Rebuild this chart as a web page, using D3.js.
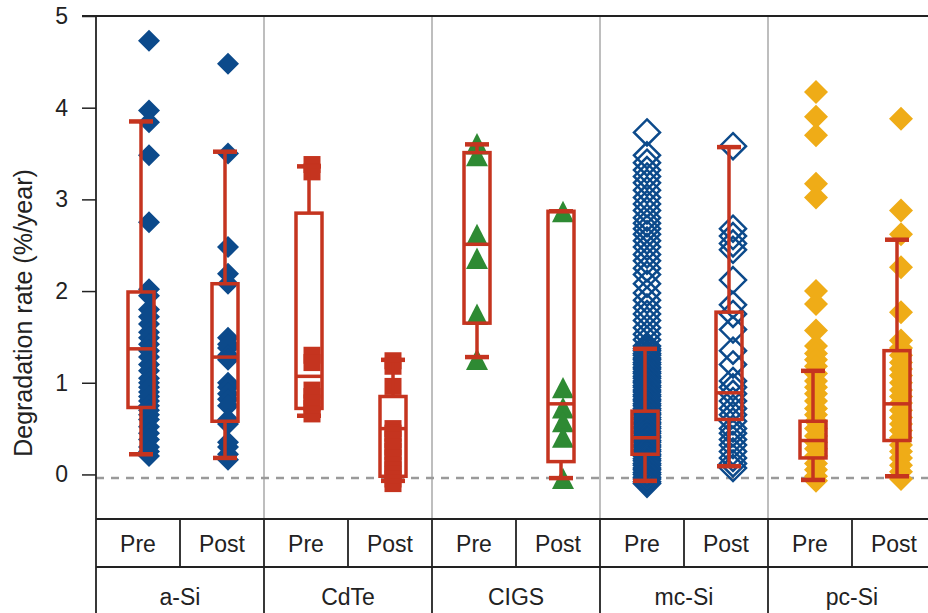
<!DOCTYPE html>
<html>
<head>
<meta charset="utf-8">
<script src="https://cdn.jsdelivr.net/npm/d3@7"></script>
<style>
  body { margin: 0; background: #fff; }
  text { font-family: "Liberation Sans", Arial, sans-serif; fill: #222; }
</style>
</head>
<body>
<svg id="chart" width="928" height="613"></svg>
<script>
// categories
const groups = ["a-Si", "CdTe", "CIGS", "mc-Si", "pc-Si"];
const periods = ["Pre", "Post"];
const yTicks = [0, 1, 2, 3, 4, 5];
const refLine = -0.04;

// degradation rates (%/year)
const aSiPre = [4.73, 3.97, 3.84, 3.48, 2.75, 2.02, 1.95, 1.8, 1.72, 1.64, 1.55, 1.49, 1.42, 1.35, 1.28, 1.2,
    1.13, 1.05, 1.0, 0.95, 0.9, 0.85, 0.8, 0.75, 0.7, 0.65, 0.6, 0.52, 0.45, 0.38, 0.3, 0.25, 0.2];
const aSiPost = [4.48, 3.5, 2.48, 2.19, 2.08, 1.49, 1.42, 1.38, 1.3, 1.25, 1.0, 0.95, 0.88, 0.82, 0.75, 0.6,
    0.55, 0.35, 0.3, 0.22, 0.16];
const cdtePre = [3.38, 3.3, 1.3, 1.22, 0.92, 0.85, 0.78, 0.72, 0.66];
const cdtePost = [1.24, 1.18, 0.96, 0.5, 0.45, 0.38, 0.3, 0.25, 0.18, 0.1, 0.05, 0.0, -0.05, -0.1];
const cigsPre = [3.58, 3.45, 2.59, 2.33, 1.72, 1.23];
const cigsPost = [2.84, 0.92, 0.7, 0.55, 0.38, -0.07];
const mcSiPre = [3.73, 3.48, 3.4, 3.32, 3.25, 3.18, 3.1, 3.02, 2.95, 2.88, 2.8, 2.74, 2.68, 2.62, 2.55, 2.48,
    2.4, 2.33, 2.25, 2.18, 2.08, 1.98, 1.9, 1.82, 1.75, 1.68, 1.6, 1.53, 1.47, 1.4, 1.37, 1.35, 1.32, 1.3,
    1.27, 1.25, 1.22, 1.2, 1.17, 1.15, 1.12, 1.1, 1.07, 1.05, 1.02, 1.0, 0.97, 0.95, 0.92, 0.9, 0.87, 0.85,
    0.82, 0.8, 0.77, 0.75, 0.72, 0.7, 0.67, 0.65, 0.62, 0.6, 0.57, 0.55, 0.52, 0.5, 0.47, 0.45, 0.42, 0.4,
    0.37, 0.35, 0.32, 0.3, 0.27, 0.25, 0.22, 0.2, 0.17, 0.15, 0.12, 0.1, 0.07, 0.05, 0.02, 0.0, -0.03,
    -0.05, -0.08, -0.1];
const mcSiPost = [3.58, 2.68, 2.6, 2.52, 2.45, 2.12, 1.85, 1.75, 1.58, 1.35, 1.2, 1.02, 0.95, 0.88, 0.8, 0.72,
    0.65, 0.58, 0.5, 0.45, 0.38, 0.32, 0.25, 0.18, 0.12, 0.07];
const pcSiPre = [4.17, 3.9, 3.7, 3.17, 3.02, 2.0, 1.86, 1.57, 1.4, 1.32, 1.25, 1.18, 1.1, 1.02, 0.95, 0.88,
    0.8, 0.72, 0.65, 0.58, 0.5, 0.42, 0.35, 0.28, 0.2, 0.12, 0.05, -0.02, -0.07];
const pcSiPost = [3.88, 2.88, 2.62, 2.26, 1.77, 1.46, 1.38, 1.3, 1.22, 1.15, 1.08, 1.0, 0.92, 0.85, 0.78, 0.7,
    0.62, 0.55, 0.48, 0.4, 0.32, 0.25, 0.18, 0.1, 0.03, -0.05];

// box plot stats, order: a-Si pre/post, CdTe pre/post, CIGS pre/post, mc-Si pre/post, pc-Si pre/post
const whiskerLow  = [0.22, 0.18, 0.64, -0.07, 1.28, -0.04, -0.07, 0.09, -0.06, -0.02];
const boxLow      = [0.73, 0.58, 0.72, -0.02, 1.65, 0.14, 0.22, 0.6, 0.18, 0.37];
const boxMedian   = [1.37, 1.28, 1.07, 0.5, 2.51, 0.77, 0.4, 0.89, 0.37, 0.77];
const boxHigh     = [1.99, 2.08, 2.85, 0.85, 3.51, 2.87, 0.69, 1.77, 0.58, 1.35];
const whiskerHigh = [3.85, 3.52, 3.36, 1.25, 3.6, 2.87, 1.37, 3.57, 1.13, 2.56];

const pointSets = [aSiPre, aSiPost, cdtePre, cdtePost, cigsPre, cigsPost, mcSiPre, mcSiPost, pcSiPre, pcSiPost];

const series = [];
groups.forEach((g, gi) => {
    periods.forEach((p, pi) => {
        const i = gi * 2 + pi;
        series.push({
            group: g, period: p, values: pointSets[i],
            wLo: whiskerLow[i], q1: boxLow[i], med: boxMedian[i], q3: boxHigh[i], wHi: whiskerHigh[i]
        });
    });
});

const red = "#c5341f";
const markers = {
    "a-Si":  { shape: "diamond", size: 11, fill: "#0c4a8b", stroke: "none", dx: [8, 3] },
    "CdTe":  { shape: "square", size: 8.5, fill: red, stroke: "none", dx: [3, 0] },
    "CIGS":  { shape: "triangle", size: 11, fill: "#2e8a33", stroke: "none", dx: [0, 2] },
    "mc-Si": { shape: "diamond", size: 13, fill: "none", stroke: "#0c4a8b", dx: [2, 4] },
    "pc-Si": { shape: "diamond", size: 12, fill: "#efac17", stroke: "none", dx: [3, 4] }
};

function markerPath(shape, s) {
    if (shape === "diamond") return `M0,${-s}L${s},0L0,${s}L${-s},0Z`;
    if (shape === "square") return `M${-s},${-s}H${s}V${s}H${-s}Z`;
    // triangle centred on its centroid
    return `M0,${-s * 1.2}L${s},${s * 0.75}L${-s},${s * 0.75}Z`;
}

const plotTop = 16, plotBottom = 519, rowMid = 567, tableBottom = 640;
const left = 96, groupW = 168;

const svg = d3.select("#chart");

const x = d3.scaleBand().domain(groups).range([left, left + groupW * groups.length]);
const xi = d3.scaleBand().domain(periods).range([0, groupW]);
const y = d3.scaleLinear().domain([-0.486, 5]).range([plotBottom, plotTop]);

const boxCx = d => x(d.group) + xi(d.period) + xi.bandwidth() / 2 + 3;

// group separators in the plot
svg.append("g")
    .selectAll("line")
    .data(groups.slice(1))
    .join("line")
    .attr("x1", d => x(d)).attr("x2", d => x(d))
    .attr("y1", plotTop).attr("y2", plotBottom)
    .attr("stroke", "#a8a8a8")
    .attr("stroke-width", 1.5);

// dashed reference line
svg.append("line")
    .attr("x1", left).attr("x2", 928)
    .attr("y1", y(refLine)).attr("y2", y(refLine))
    .attr("stroke", "#9a9a9a")
    .attr("stroke-width", 2.5)
    .attr("stroke-dasharray", "8,7");

// points
const pts = svg.append("g");
series.forEach(s => {
    const m = markers[s.group];
    const cx = boxCx(s) + m.dx[periods.indexOf(s.period)];
    pts.append("g")
        .selectAll("path")
        .data(s.values)
        .join("path")
        .attr("d", markerPath(m.shape, m.size))
        .attr("transform", v => `translate(${cx},${y(v)})`)
        .attr("fill", m.fill)
        .attr("stroke", m.stroke)
        .attr("stroke-width", 2.5);
});

// box plots
const boxW = 26;
const boxes = svg.append("g")
    .selectAll("g")
    .data(series)
    .join("g")
    .attr("transform", d => `translate(${boxCx(d)},0)`)
    .attr("stroke", red)
    .attr("fill", "none");

boxes.append("line")
    .attr("y1", d => y(d.q3)).attr("y2", d => y(d.wHi))
    .attr("stroke-width", 3.5);
boxes.append("line")
    .attr("y1", d => y(d.q1)).attr("y2", d => y(d.wLo))
    .attr("stroke-width", 3.5);
boxes.append("rect")
    .attr("x", -boxW / 2)
    .attr("width", boxW)
    .attr("y", d => y(d.q3))
    .attr("height", d => y(d.q1) - y(d.q3))
    .attr("stroke-width", 3.5);
boxes.append("line")
    .attr("x1", -boxW / 2).attr("x2", boxW / 2)
    .attr("y1", d => y(d.med)).attr("y2", d => y(d.med))
    .attr("stroke-width", 3.5);
boxes.append("line")
    .attr("x1", -boxW / 2 + 1).attr("x2", boxW / 2 - 1)
    .attr("y1", d => y(d.wHi)).attr("y2", d => y(d.wHi))
    .attr("stroke-width", 4.5);
boxes.append("line")
    .attr("x1", -boxW / 2 + 1).attr("x2", boxW / 2 - 1)
    .attr("y1", d => y(d.wLo)).attr("y2", d => y(d.wLo))
    .attr("stroke-width", 4.5);

// y axis
const yAxis = svg.append("g")
    .attr("transform", `translate(${left},0)`)
    .call(d3.axisLeft(y).tickValues(yTicks).tickSize(14).tickPadding(14).tickFormat(d3.format("d")));
yAxis.select(".domain").remove();
yAxis.selectAll(".tick line").attr("stroke", "#222").attr("stroke-width", 1.5);
yAxis.selectAll(".tick text")
    .style("font-size", "23px")
    .style("font-family", "Liberation Sans, Arial, sans-serif")
    .attr("fill", "#222");

svg.append("text")
    .attr("transform", "rotate(-90)")
    .attr("x", -313)
    .attr("y", 32)
    .attr("text-anchor", "middle")
    .style("font-size", "25px")
    .text("Degradation rate (%/year)");

// frame
const frame = svg.append("g").attr("stroke", "#222").attr("stroke-width", 1.8);
frame.append("line").attr("x1", left - 14).attr("x2", 928).attr("y1", plotTop).attr("y2", plotTop);
frame.append("line").attr("x1", left).attr("x2", left).attr("y1", plotTop).attr("y2", tableBottom);
frame.append("line").attr("x1", left).attr("x2", 928).attr("y1", plotBottom).attr("y2", plotBottom);
frame.append("line").attr("x1", left).attr("x2", 928).attr("y1", rowMid).attr("y2", rowMid);

// category table
frame.selectAll(".gsep")
    .data(groups.slice(1))
    .join("line")
    .attr("x1", d => x(d)).attr("x2", d => x(d))
    .attr("y1", plotBottom).attr("y2", tableBottom);
frame.selectAll(".psep")
    .data(groups)
    .join("line")
    .attr("x1", d => x(d) + xi("Post")).attr("x2", d => x(d) + xi("Post"))
    .attr("y1", plotBottom).attr("y2", rowMid);

svg.append("g")
    .selectAll("text")
    .data(series)
    .join("text")
    .attr("x", d => x(d.group) + xi(d.period) + xi.bandwidth() / 2)
    .attr("y", 552)
    .attr("text-anchor", "middle")
    .style("font-size", "23px")
    .text(d => d.period);

svg.append("g")
    .selectAll("text")
    .data(groups)
    .join("text")
    .attr("x", d => x(d) + groupW / 2)
    .attr("y", 605)
    .attr("text-anchor", "middle")
    .style("font-size", "23px")
    .text(d => d);
</script>
</body>
</html>
